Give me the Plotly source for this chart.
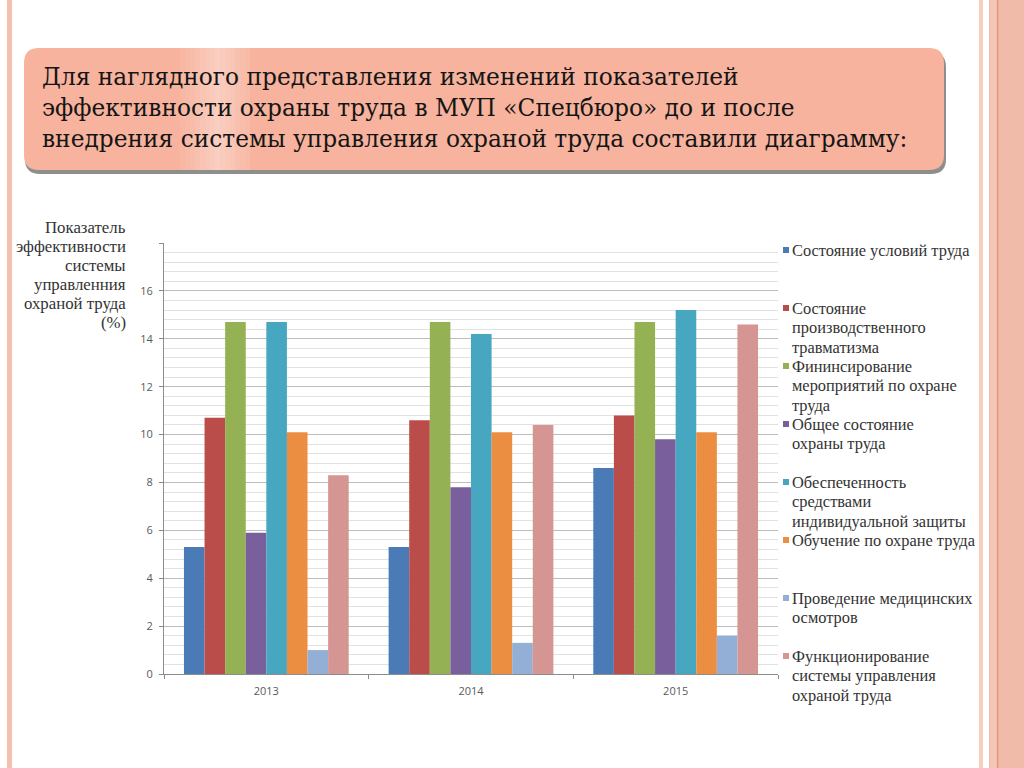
import plotly.graph_objects as go

# ---------------- data ----------------
years = ["2013", "2014", "2015"]

series_names = [
    "Состояние условий труда",
    "Состояние производственного травматизма",
    "Фининсирование мероприятий по охране труда",
    "Общее состояние охраны труда",
    "Обеспеченность средствами индивидуальной защиты",
    "Обучение по охране труда",
    "Проведение медицинских осмотров",
    "Функционирование системы управления охраной труда",
]
legend_labels = [
    "Состояние условий труда",
    "Состояние<br>производственного<br>травматизма",
    "Фининсирование<br>мероприятий по охране<br>труда",
    "Общее состояние<br>охраны труда",
    "Обеспеченность<br>средствами<br>индивидуальной защиты",
    "Обучение по охране труда",
    "Проведение медицинских<br>осмотров",
    "Функционирование<br>системы управления<br>охраной труда",
]
colors = ["#4A7BB7", "#BA4C49", "#94B253", "#7A5F9D",
          "#47A6C0", "#EC8E42", "#93AFD6", "#D59593"]

s_conditions = [5.3, 5.3, 8.6]
s_injuries = [10.7, 10.6, 10.8]
s_financing = [14.7, 14.7, 14.7]
s_general = [5.9, 7.8, 9.8]
s_ppe = [14.7, 14.2, 15.2]
s_training = [10.1, 10.1, 10.1]
s_medical = [1.0, 1.3, 1.6]
s_system = [8.3, 10.4, 14.6]
series_values = [s_conditions, s_injuries, s_financing, s_general,
                 s_ppe, s_training, s_medical, s_system]

y_tick_vals = [0, 2, 4, 6, 8, 10, 12, 14, 16, 18]
y_tick_text = ["0", "2", "4", "6", "8", "10", "12", "14", "16", ""]

header_lines = [
    "Для наглядного представления изменений показателей",
    "эффективности охраны труда в МУП «Спецбюро» до и после",
    "внедрения системы управления охраной труда составили диаграмму:",
]
y_title_lines = ["Показатель", "эффективности", "системы", "управленния",
                 "охраной труда", "(%)"]

# ---------------- layout helpers (pixel -> paper) ----------------
W, H = 1024, 768
ML, MR, MT, MB = 164, 246, 243, 94
PW, PH = W - ML - MR, H - MT - MB


def px(x):
    return (x - ML) / PW


def py(y):
    return (H - MB - y) / PH


def P(x, y):
    return f"{px(x):.5f},{py(y):.5f}"


def rounded_path(x0, y0, x1, y1, r):
    return (f"M {P(x0 + r, y0)} L {P(x1 - r, y0)} Q {P(x1, y0)} {P(x1, y0 + r)} "
            f"L {P(x1, y1 - r)} Q {P(x1, y1)} {P(x1 - r, y1)} "
            f"L {P(x0 + r, y1)} Q {P(x0, y1)} {P(x0, y1 - r)} "
            f"L {P(x0, y0 + r)} Q {P(x0, y0)} {P(x0 + r, y0)} Z")


fig = go.Figure()
for name, vals, col in zip(series_names, series_values, colors):
    fig.add_trace(go.Bar(x=years, y=vals, name=name, marker_color=col,
                         marker_line_width=0, showlegend=False))

shapes = []
annotations = []

# page decorations
shapes.append(dict(type="rect", xref="paper", yref="paper", x0=px(7), x1=px(12),
                   y0=py(768), y1=py(0), fillcolor="#F3C0AE", line_width=0, layer="below"))
shapes.append(dict(type="rect", xref="paper", yref="paper", x0=px(979), x1=px(983),
                   y0=py(768), y1=py(0), fillcolor="#F6CEC0", line_width=0, layer="below"))
shapes.append(dict(type="rect", xref="paper", yref="paper", x0=px(989), x1=px(1024),
                   y0=py(768), y1=py(0), fillcolor="#F0BBA8", line_width=0, layer="below"))
shapes.append(dict(type="rect", xref="paper", yref="paper", x0=px(990), x1=px(996),
                   y0=py(768), y1=py(0), fillcolor="#F4C6B6", line_width=0, layer="below"))
shapes.append(dict(type="rect", xref="paper", yref="paper", x0=px(997), x1=px(998.5),
                   y0=py(768), y1=py(0), fillcolor="#E39C80", line_width=0, layer="below"))

# header box
bx0, by0, bx1, by1 = 24, 48, 944, 170
shapes.append(dict(type="path", xref="paper", yref="paper",
                   path=rounded_path(bx0 + 1, by0 + 4, bx1 + 2, by1 + 4, 15),
                   fillcolor="#8E8E8E", line_width=0))
shapes.append(dict(type="path", xref="paper", yref="paper",
                   path=rounded_path(bx0, by0, bx1, by1, 15),
                   fillcolor="#F7B39D", line_width=0))
# light highlight band
for i in range(16):
    xa = 170 + i * 5
    centre = 218
    d = abs(xa + 2.5 - centre)
    op = max(0.0, 0.36 * (1 - d / 42))
    if op > 0:
        shapes.append(dict(type="rect", xref="paper", yref="paper",
                           x0=px(xa), x1=px(xa + 5), y0=py(by1), y1=py(by0),
                           fillcolor="white", opacity=op, line_width=0))

for i, line in enumerate(header_lines):
    annotations.append(dict(text=line, xref="paper", yref="paper",
                            x=px(40), y=py(76 + i * 31.5), xanchor="left", yanchor="middle",
                            showarrow=False,
                            font=dict(family="DejaVu Serif", size=23.3, color="#151515")))

# y-axis title (one annotation per line for exact spacing)
for k, line in enumerate(y_title_lines):
    annotations.append(dict(text=line, xref="paper", yref="paper",
                            x=px(128), y=py(227 + k * 19), xanchor="right", yanchor="middle",
                            align="right", showarrow=False,
                            font=dict(family="Liberation Serif", size=16.8, color="#333333")))

# legend built from series names and colors
for i, (lab, col) in enumerate(zip(legend_labels, colors)):
    yc = 250 + i * 58
    shapes.append(dict(type="rect", xref="paper", yref="paper",
                       x0=px(783), x1=px(789), y0=py(yc + 3), y1=py(yc - 3),
                       fillcolor=col, line_width=0))
    for k, line in enumerate(lab.split("<br>")):
        annotations.append(dict(text=line, xref="paper", yref="paper",
                                x=px(790), y=py(yc + k * 19.5), xanchor="left",
                                yanchor="middle", align="left", showarrow=False,
                                font=dict(family="Liberation Serif", size=16.4,
                                          color="#333333")))

fig.update_layout(
    width=W, height=H,
    margin=dict(l=ML, r=MR, t=MT, b=MB, autoexpand=False),
    paper_bgcolor="white", plot_bgcolor="white",
    barmode="group", bargap=0.195, bargroupgap=0,
    showlegend=False,
    shapes=shapes, annotations=annotations,
    xaxis=dict(showgrid=False, showline=True, linecolor="#8C8C8C", linewidth=1,
               ticks="outside", tickson="boundaries", ticklen=4, tickcolor="#8C8C8C",
               ticklabelstandoff=7,
               tickfont=dict(family="Open Sans", size=11, color="#595959"),
               fixedrange=True),
    yaxis=dict(range=[0, 18], tickvals=y_tick_vals, ticktext=y_tick_text,
               showgrid=True, gridcolor="#BDBDBD", gridwidth=1,
               showline=True, linecolor="#8C8C8C", linewidth=1,
               ticks="outside", ticklen=4, tickcolor="#8C8C8C",
               ticklabelstandoff=4,
               tickfont=dict(family="Open Sans", size=11, color="#595959"),
               minor=dict(dtick=0.4, tick0=0, showgrid=True, gridcolor="#E2E2E2",
                          gridwidth=1),
               zeroline=False, fixedrange=True),
)

fig.write_html("out.html", config={"displayModeBar": False},
               post_script="document.body.style.margin='0';document.body.style.overflow='hidden';")
